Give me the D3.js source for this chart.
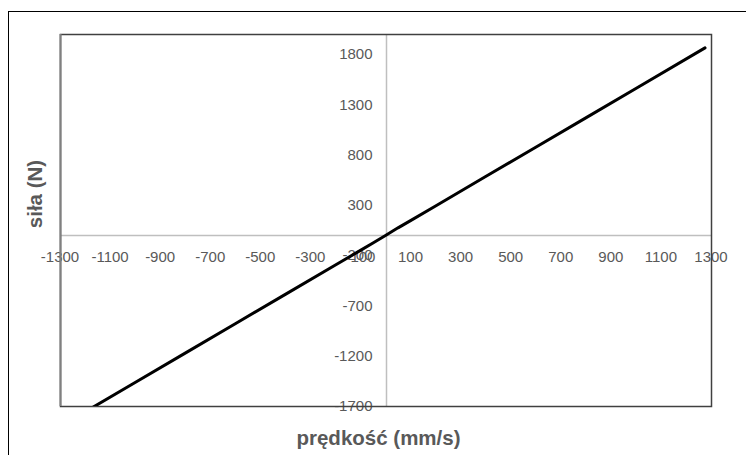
<!DOCTYPE html>
<html>
<head>
<meta charset="utf-8">
<script src="https://cdn.jsdelivr.net/npm/d3@7"></script>
<style>
  body { margin: 0; background: #fff; }
  svg { display: block; }
</style>
</head>
<body>
<svg id="chart"></svg>
<script>
// velocity (mm/s) vs force (N)
const velocity = [-1275, -1000, -800, -600, -400, -200, -100, -50, 0, 50, 100, 200, 400, 600, 800, 1000, 1276]
const force = [-1868, -1466, -1174, -882, -590, -298, -152, -78, -4, 72, 144, 290, 582, 874, 1166, 1458, 1862]
const xTicks = d3.range(-1300, 1301, 200)
const yTicks = d3.range(-1700, 1801, 500)

const width = 746, height = 455
const plot = {left: 60, right: 711, top: 34, bottom: 406}

const svg = d3.select('#chart')
    .attr('width', width)
    .attr('height', height)

const x = d3.scaleLinear()
    .domain([-1300, 1300])
    .range([plot.left, plot.right])

const y = d3.scaleLinear()
    .domain([-1700, 2000])
    .range([plot.bottom, plot.top])

// outer chart border (only top/left end up inside the picture)
svg.append('rect')
    .attr('x', 8.5).attr('y', 11.5)
    .attr('width', 760).attr('height', 470)
    .attr('fill', 'none')
    .attr('stroke', '#000')
    .attr('stroke-width', 1)

svg.append('defs').append('clipPath')
    .attr('id', 'clip')
    .append('rect')
    .attr('x', plot.left).attr('y', plot.top)
    .attr('width', plot.right - plot.left)
    .attr('height', plot.bottom - plot.top)

// zero lines
svg.append('line')
    .attr('x1', plot.left).attr('x2', plot.right)
    .attr('y1', Math.round(y(0)) + 0.5).attr('y2', Math.round(y(0)) + 0.5)
    .attr('stroke', '#bfbfbf').attr('stroke-width', 1.5)

svg.append('line')
    .attr('x1', Math.round(x(0)) + 0.5).attr('x2', Math.round(x(0)) + 0.5)
    .attr('y1', plot.top).attr('y2', plot.bottom)
    .attr('stroke', '#bfbfbf').attr('stroke-width', 1.5)

// tick labels
svg.append('g')
    .selectAll('text')
    .data(xTicks)
    .join('text')
        .attr('x', d => x(d))
        .attr('y', y(0) + 27)
        .attr('text-anchor', 'middle')
        .attr('fill', '#595959')
        .style('font-family', 'Liberation Sans, Arial, sans-serif')
        .style('font-size', '15px')
        .text(d => d)

svg.append('g')
    .selectAll('text')
    .data(yTicks)
    .join('text')
        .attr('x', x(0) - 13)
        .attr('y', d => y(d))
        .attr('dy', '0.35em')
        .attr('text-anchor', 'end')
        .attr('fill', '#595959')
        .style('font-family', 'Liberation Sans, Arial, sans-serif')
        .style('font-size', '15px')
        .text(d => d)

// plot area border
svg.append('rect')
    .attr('x', plot.left + 0.5).attr('y', plot.top + 0.5)
    .attr('width', plot.right - plot.left).attr('height', plot.bottom - plot.top)
    .attr('fill', 'none')
    .attr('stroke', '#404040')
    .attr('stroke-width', 1.5)

svg.append('line')
    .attr('x1', plot.left + 0.5).attr('x2', plot.left + 0.5)
    .attr('y1', plot.top).attr('y2', plot.bottom)
    .attr('stroke', '#808080').attr('stroke-width', 2)

const line = d3.line()
    .x((d, i) => x(velocity[i]))
    .y((d, i) => y(force[i]))

svg.append('path')
    .datum(force)
    .attr('clip-path', 'url(#clip)')
    .attr('fill', 'none')
    .attr('stroke', '#000')
    .attr('stroke-width', 3)
    .attr('stroke-linecap', 'round')
    .attr('d', line)

// axis titles
svg.append('text')
    .attr('x', x(0) - 7)
    .attr('y', 445)
    .attr('text-anchor', 'middle')
    .attr('fill', '#595959')
    .style('font-family', 'Liberation Sans, Arial, sans-serif')
    .style('font-weight', 700)
    .style('font-size', '20.5px')
    .text('prędkość (mm/s)')

svg.append('text')
    .attr('transform', 'translate(42, 194) rotate(-90)')
    .attr('text-anchor', 'middle')
    .attr('fill', '#595959')
    .style('font-family', 'Liberation Sans, Arial, sans-serif')
    .style('font-weight', 700)
    .style('font-size', '20.5px')
    .text('siła (N)')
</script>
</body>
</html>
